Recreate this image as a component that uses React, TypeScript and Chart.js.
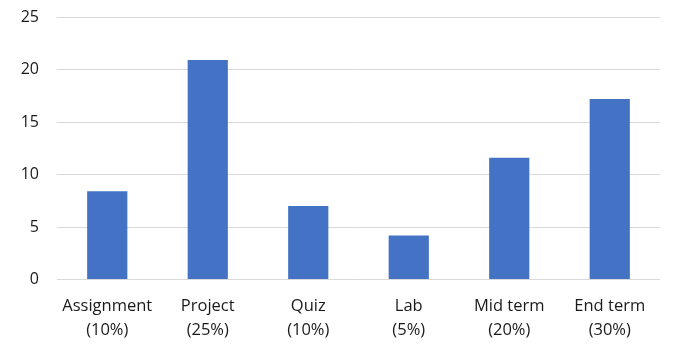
import React, { useEffect, useRef } from "react";
import { Chart, registerables } from "chart.js";

Chart.register(...registerables);

const categories: string[][] = [
  ["Assignment", "(10%)"],
  ["Project", "(25%)"],
  ["Quiz", "(10%)"],
  ["Lab", "(5%)"],
  ["Mid term", "(20%)"],
  ["End term", "(30%)"],
];
const values: number[] = [8.4, 20.9, 7.0, 4.2, 11.6, 17.2];
const yMin = 0;
const yMax = 25;
const yStep = 5;

export default function App() {
  const ref = useRef<HTMLCanvasElement>(null);
  useEffect(() => {
    document.body.style.margin = "0";
    const ctx = ref.current!;
    const chart = new Chart(ctx, {
      type: "bar",
      data: {
        labels: categories,
        datasets: [
          {
            data: values,
            backgroundColor: "#4472C4",
            borderWidth: 0,
            categoryPercentage: 1,
            barPercentage: 0.4,
          },
        ],
      },
      options: {
        animation: false,
        responsive: false,
        maintainAspectRatio: false,
        layout: { padding: { top: 17, right: 21, left: 0, bottom: 0 } },
        plugins: { legend: { display: false }, tooltip: { enabled: false } },
        scales: {
          x: {
            grid: { display: false },
            border: { display: false },
            ticks: {
              color: "#1a1a1a",
              font: { family: "Open Sans", size: 16.5, lineHeight: 1.5 },
              padding: 6,
              maxRotation: 0,
              autoSkip: false,
            },
            afterFit: (s: any) => {
              s.height = 68.5;
              s.paddingLeft = 0;
              s.paddingRight = 0;
            },
          },
          y: {
            min: yMin,
            max: yMax,
            grid: { color: "#d9d9d9", lineWidth: 1, drawTicks: false },
            border: { display: false },
            ticks: {
              stepSize: yStep,
              color: "#1a1a1a",
              font: { family: "Open Sans", size: 16 },
              padding: 18,
            },
            afterFit: (s: any) => {
              s.width = 57;
              s.paddingTop = 0;
              s.paddingBottom = 0;
            },
          },
        },
      },
    });
    return () => chart.destroy();
  }, []);
  return (
    <div style={{ width: 681, height: 348 }}>
      <canvas ref={ref} width={681} height={348} />
    </div>
  );
}
